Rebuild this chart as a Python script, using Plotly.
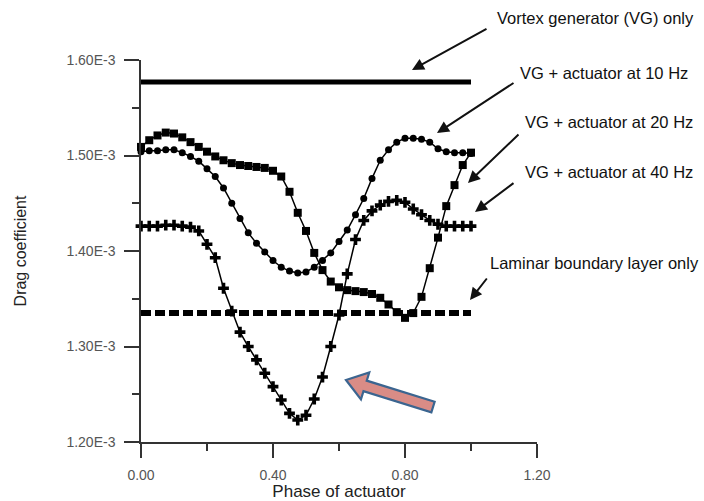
import plotly.graph_objects as go
import numpy as np

# ---------------- data (drag coefficient in units of 1E-3) ----------------
phase = [0.000, 0.025, 0.050, 0.075, 0.100, 0.125, 0.150, 0.175, 0.200, 0.225,
         0.250, 0.275, 0.300, 0.325, 0.350, 0.375, 0.400, 0.425, 0.450, 0.475,
         0.500, 0.525, 0.550, 0.575, 0.600, 0.625, 0.650, 0.675, 0.700, 0.725,
         0.750, 0.775, 0.800, 0.825, 0.850, 0.875, 0.900, 0.925, 0.950, 0.975,
         1.000]

cd_10hz = [1.504, 1.505, 1.505, 1.506, 1.506, 1.503, 1.499, 1.494, 1.486, 1.478,
           1.466, 1.450, 1.434, 1.419, 1.408, 1.399, 1.390, 1.383, 1.379, 1.377,
           1.378, 1.383, 1.390, 1.398, 1.410, 1.422, 1.438, 1.455, 1.476, 1.495,
           1.506, 1.514, 1.518, 1.518, 1.517, 1.514, 1.507, 1.504, 1.503, 1.503,
           1.502]

cd_20hz = [1.509, 1.516, 1.521, 1.524, 1.523, 1.519, 1.514, 1.509, 1.504, 1.499,
           1.495, 1.492, 1.490, 1.489, 1.488, 1.487, 1.484, 1.478, 1.462, 1.440,
           1.421, 1.398, 1.380, 1.368, 1.362, 1.359, 1.358, 1.357, 1.355, 1.351,
           1.344, 1.336, 1.330, 1.335, 1.352, 1.382, 1.414, 1.447, 1.469, 1.490,
           1.503]

cd_40hz = [1.426, 1.426, 1.426, 1.427, 1.427, 1.426, 1.425, 1.421, 1.407, 1.393,
           1.361, 1.337, 1.315, 1.300, 1.286, 1.272, 1.258, 1.244, 1.230, 1.223,
           1.228, 1.245, 1.268, 1.300, 1.333, 1.376, 1.412, 1.432, 1.442, 1.448,
           1.452, 1.453, 1.451, 1.444, 1.438, 1.432, 1.428, 1.426, 1.426, 1.426,
           1.426]

vg_phase = [0.0, 1.0]
cd_vg_only = [1.577, 1.577]

lam_phase = [0.0, 1.0]
cd_laminar = [1.335, 1.335]

y_tickvals = [1.20, 1.30, 1.40, 1.50, 1.60]
y_ticktext = ["1.20E-3", "1.30E-3", "1.40E-3", "1.50E-3", "1.60E-3"]
x_tickvals = [0.0, 0.4, 0.8, 1.2]
x_ticktext = ["0.00", "0.40", "0.80", "1.20"]

labels = ["Vortex generator (VG) only", "VG + actuator at 10 Hz",
          "VG + actuator at 20 Hz", "VG + actuator at 40 Hz",
          "Laminar boundary layer only"]

# ---------------- layout geometry (pixels) ----------------
W, H = 704, 501
ML, MR, MT, MB = 141, 167, 60, 59
PW, PH = W - ML - MR, H - MT - MB


def px(x):
    return (x - ML) / PW


def py(y):
    return (H - MB - y) / PH


FONT = "Liberation Sans, Arial, sans-serif"

fig = go.Figure()

fig.add_trace(go.Scatter(x=vg_phase, y=cd_vg_only, mode="lines",
                         line=dict(color="black", width=5),
                         cliponaxis=False, showlegend=False))
fig.add_trace(go.Scatter(x=lam_phase, y=cd_laminar, mode="lines",
                         line=dict(color="black", width=6, dash="10px,4px"),
                         cliponaxis=False, showlegend=False))
fig.add_trace(go.Scatter(x=phase, y=cd_10hz, mode="lines+markers",
                         line=dict(color="black", width=1.5),
                         marker=dict(symbol="circle", size=7, color="black"),
                         cliponaxis=False, showlegend=False))
fig.add_trace(go.Scatter(x=phase, y=cd_20hz, mode="lines+markers",
                         line=dict(color="black", width=1.5),
                         marker=dict(symbol="square", size=8, color="black"),
                         cliponaxis=False, showlegend=False))
fig.add_trace(go.Scatter(x=phase, y=cd_40hz, mode="lines+markers",
                         line=dict(color="black", width=1.5),
                         marker=dict(symbol="cross", size=9, color="black"),
                         cliponaxis=False, showlegend=False))

# ---------------- label annotations with arrows ----------------
# (text left x, text center y, arrow tail x, tail y, head x, head y)
label_pos = [
    (495, 18, 488, 28, 412, 70),
    (518, 73, 515, 82, 437, 133),
    (523, 122, 520, 133, 468, 183),
    (523, 172, 515, 182, 475, 212),
    (488, 263, 488, 277, 470, 300),
]
annotations = []
for text, (tx, ty, ax0, ay0, hx, hy) in zip(labels, label_pos):
    annotations.append(dict(text=text, xref="paper", yref="paper",
                            x=px(tx), y=py(ty), xanchor="left", yanchor="middle",
                            showarrow=False,
                            font=dict(family=FONT, size=16.5, color="#111111")))
    annotations.append(dict(text="", xref="paper", yref="paper",
                            x=px(hx), y=py(hy), ax=ax0 - hx, ay=ay0 - hy,
                            showarrow=True, arrowhead=2, arrowsize=1.2,
                            arrowwidth=2, arrowcolor="#111111"))

# ---------------- decorative block arrow ----------------
tail = np.array([433.0, 407.0])
tip = np.array([346.0, 380.0])
u = (tip - tail) / np.linalg.norm(tip - tail)
n = np.array([-u[1], u[0]])
head_len, head_w, shaft_w = 20.0, 14.0, 5.5
base = tip - u * head_len
pts = [tail + n * shaft_w, base + n * shaft_w, base + n * head_w, tip,
       base - n * head_w, base - n * shaft_w, tail - n * shaft_w]
path = "M " + " L ".join(f"{px(p[0]):.5f},{py(p[1]):.5f}" for p in pts) + " Z"

fig.update_layout(
    width=W, height=H, autosize=False,
    margin=dict(l=ML, r=MR, t=MT, b=MB),
    paper_bgcolor="white", plot_bgcolor="white",
    annotations=annotations,
    shapes=[dict(type="path", xref="paper", yref="paper", path=path,
                 fillcolor="#D98C86", line=dict(color="#3B6590", width=2.2))],
    xaxis=dict(range=[0, 1.2], tickmode="array", tickvals=x_tickvals,
               ticktext=x_ticktext, showgrid=False, zeroline=False,
               automargin=False,
               showline=True, linecolor="#333333", linewidth=1.5,
               ticks="outside", ticklen=14, tickwidth=1.5, tickcolor="#333333",
               minor=dict(tickmode="linear", tick0=0, dtick=0.2, ticks="outside",
                          ticklen=7, tickwidth=1.5, tickcolor="#333333"),
               tickfont=dict(family=FONT, size=14, color="#555555"),
               ticklabelstandoff=5,
               title=dict(text="Phase of actuator", standoff=3,
                          font=dict(family=FONT, size=17, color="#222222"))),
    yaxis=dict(range=[1.2, 1.6], tickmode="array", tickvals=y_tickvals,
               ticktext=y_ticktext, showgrid=False, zeroline=False,
               automargin=False,
               showline=True, linecolor="#333333", linewidth=1.5,
               ticks="outside", ticklen=15, tickwidth=1.5, tickcolor="#333333",
               minor=dict(tickmode="linear", tick0=1.2, dtick=0.05, ticks="outside",
                          ticklen=7, tickwidth=1.5, tickcolor="#333333"),
               tickfont=dict(family=FONT, size=14, color="#555555"),
               ticklabelstandoff=6,
               title=dict(text="Drag coefficient", standoff=36,
                          font=dict(family=FONT, size=16, color="#222222"))),
)

fig.write_html("out.html",
               config={"displayModeBar": False},
               post_script="document.body.style.margin='0';document.body.style.overflow='hidden';")
